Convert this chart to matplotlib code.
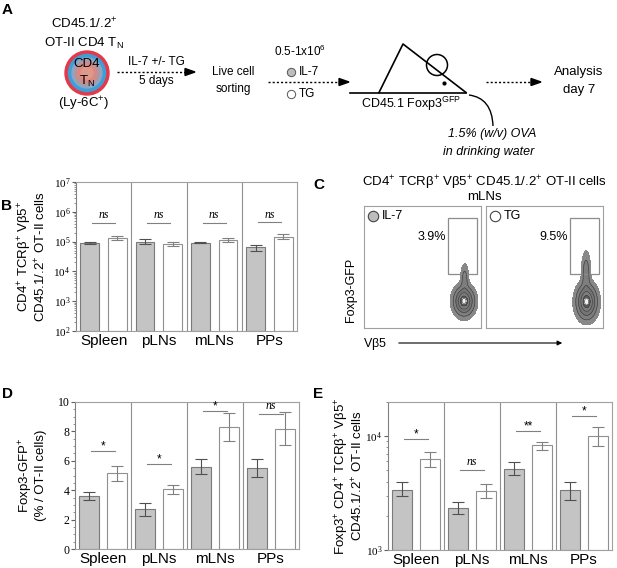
import numpy as np
import matplotlib.pyplot as plt
from matplotlib.patches import Circle, Rectangle, Polygon, PathPatch
from matplotlib.path import Path
from matplotlib.ticker import FixedLocator, AutoMinorLocator, LogLocator, NullFormatter

plt.rcParams['font.family'] = ['Liberation Sans', 'DejaVu Sans']

organs = ['Spleen', 'pLNs', 'mLNs', 'PPs']

# B: CD4+ TCRb+ Vb5+ CD45.1/.2+ OT-II cells (counts)
b_il7 = [9.0e4, 1.0e5, 9.3e4, 6.5e4]
b_il7_lo = [8.0e4, 8.0e4, 8.8e4, 5.0e4]
b_il7_hi = [1.0e5, 1.2e5, 9.8e4, 7.5e4]
b_tg = [1.35e5, 8.5e4, 1.1e5, 1.45e5]
b_tg_lo = [1.1e5, 7.0e4, 9.5e4, 1.2e5]
b_tg_hi = [1.6e5, 1.0e5, 1.3e5, 1.8e5]
b_sig = ['ns', 'ns', 'ns', 'ns']
b_sig_y = [4.3e5, 4.3e5, 4.3e5, 4.5e5]

# D: Foxp3-GFP+ (% of OT-II cells)
d_il7 = [3.6, 2.69, 5.59, 5.54]
d_il7_lo = [3.33, 2.26, 5.09, 4.91]
d_il7_hi = [3.85, 3.1, 6.09, 6.09]
d_tg = [5.14, 4.05, 8.30, 8.19]
d_tg_lo = [4.62, 3.73, 7.38, 7.06]
d_tg_hi = [5.66, 4.37, 9.25, 9.32]
d_sig = ['*', '*', '*', 'ns']
d_sig_y = [6.65, 5.75, 9.37, 9.2]

# E: Foxp3+ OT-II cells (counts)
e_il7 = [3.4e3, 2.36e3, 5.18e3, 3.39e3]
e_il7_lo = [2.97e3, 2.09e3, 4.56e3, 2.77e3]
e_il7_hi = [3.94e3, 2.63e3, 5.89e3, 3.96e3]
e_tg = [6.25e3, 3.33e3, 8.34e3, 1.0e4]
e_tg_lo = [5.36e3, 2.87e3, 7.64e3, 8.13e3]
e_tg_hi = [7.24e3, 3.83e3, 8.97e3, 1.2e4]
e_sig = ['*', 'ns', '**', '*']
e_sig_y = [9.5e3, 5.08e3, 1.12e4, 1.5e4]

# C: flow plots (gate %, blob shape: body and tail centre / spread / weight)
c_groups = ['IL-7', 'TG']
c_pct = ['3.9%', '9.5%']
c_body = [(0.855, 0.22, 0.045, 0.06), (0.86, 0.215, 0.045, 0.072)]
c_tail = [(0.86, 0.40, 0.018, 0.065, 0.2), (0.855, 0.45, 0.02, 0.09, 0.24)]

GREY = '#c4c4c4'
FRAME = '#a0a0a0'


def bars(ax, il7, il7_lo, il7_hi, tg, tg_lo, tg_hi, sig, sig_y, ymin):
    x = np.arange(len(organs))
    il7 = np.array(il7)
    tg = np.array(tg)
    ax.bar(x - 0.25, il7 - ymin, bottom=ymin, width=0.34, color=GREY,
           edgecolor='#7a7a7a', lw=0.8, zorder=2)
    ax.bar(x + 0.25, tg - ymin, bottom=ymin, width=0.34, color='white',
           edgecolor='#909090', lw=0.8, zorder=2)
    ax.errorbar(x - 0.25, il7, yerr=[il7 - np.array(il7_lo), np.array(il7_hi) - il7],
                fmt='none', ecolor='#505050', elinewidth=0.8, capsize=4, capthick=0.8, zorder=3)
    ax.errorbar(x + 0.25, tg, yerr=[tg - np.array(tg_lo), np.array(tg_hi) - tg],
                fmt='none', ecolor='#808080', elinewidth=0.8, capsize=4, capthick=0.8, zorder=3)
    for i in range(len(organs)):
        ax.plot([i - 0.21, i + 0.21], [sig_y[i], sig_y[i]], color='#808080', lw=0.8)
        if sig[i] == 'ns':
            ax.annotate('ns', (i, sig_y[i]), xytext=(0, 1), textcoords='offset points',
                        ha='center', va='bottom', fontsize=8.5, style='italic',
                        family='Liberation Serif')
        else:
            ax.annotate(sig[i], (i, sig_y[i]), xytext=(0, -1), textcoords='offset points',
                        ha='center', va='bottom', fontsize=8.5)
    for s in (0.5, 1.5, 2.5):
        ax.axvline(s, color='#909090', lw=0.8, zorder=1)
    ax.set_xlim(-0.5, 3.5)
    ax.set_xticks(x)
    ax.set_xticklabels(organs, fontsize=11)
    ax.tick_params(axis='x', length=0, pad=2)
    ax.tick_params(axis='y', labelsize=8, length=3, color='#606060', pad=1)
    ax.tick_params(axis='y', which='minor', length=1.5, color='#808080')
    for sp in ax.spines.values():
        sp.set_color(FRAME)
        sp.set_linewidth(0.8)
    ax.spines['left'].set_color('#808080')


fig = plt.figure(figsize=(6.17, 5.68), dpi=100)

# overlay in pixel coordinates for panel A and labels
ov = fig.add_axes([0, 0, 1, 1])
ov.set_xlim(0, 617)
ov.set_ylim(568, 0)
ov.axis('off')

for letter, (lx, ly) in zip('ABCDE', [(2, 10), (1, 206), (313, 185), (2, 394), (313, 394)]):
    ov.text(lx, ly, letter, fontsize=11, fontweight='bold', va='center', ha='left')

# panel A schematic
ov.text(84, 24, r'CD45.1/.2$\mathregular{^{+}}$', ha='center', va='center', fontsize=9.5)
ov.text(84, 43, r'OT-II CD4 T$\mathregular{_{N}}$', ha='center', va='center', fontsize=9.5)
ov.add_patch(Circle((87, 73), 22, color='#e23a4a', zorder=2))
ov.add_patch(Circle((87, 73), 18.5, color='#3d9fd6', zorder=2))
for r, c in zip([15, 12, 9, 6], ['#8aa6c4', '#c09098', '#d88a80', '#e0988a']):
    ov.add_patch(Circle((87, 73), r, color=c, zorder=2))
ov.text(87, 64, 'CD4', ha='center', va='center', fontsize=9.5, zorder=3)
ov.text(87, 81, r'T$\mathregular{_{N}}$', ha='center', va='center', fontsize=9.5, zorder=3)
ov.text(84, 104, r'(Ly-6C$\mathregular{^{+}}$)', ha='center', va='center', fontsize=9.5)


def dotted_arrow(x0, x1, y):
    ov.plot([x0, x1 - 8], [y, y], color='k', lw=1, linestyle=(0, (1.5, 1.5)))
    ov.add_patch(Polygon([[x1 - 10, y - 3.5], [x1, y], [x1 - 10, y + 3.5]], closed=True,
                         color='k'))


dotted_arrow(117, 195, 72)
ov.text(156, 62, 'IL-7 +/- TG', ha='center', va='center', fontsize=8.5)
ov.text(156, 81, '5 days', ha='center', va='center', fontsize=8.5)
ov.text(233, 72, 'Live cell', ha='center', va='center', fontsize=8.5)
ov.text(233, 89, 'sorting', ha='center', va='center', fontsize=8.5)
dotted_arrow(268, 349, 82)
ov.text(300, 51, r'0.5-1x10$\mathregular{^{6}}$', ha='center', va='center', fontsize=8.5)
ov.plot(291, 72, 'o', ms=6, mfc='#bdbdbd', mec='#555555', mew=0.7)
ov.text(299, 72, 'IL-7', ha='left', va='center', fontsize=8.5)
ov.plot(291, 94, 'o', ms=6, mfc='white', mec='#555555', mew=0.7)
ov.text(299, 94, 'TG', ha='left', va='center', fontsize=8.5)

# mouse
ov.plot([350, 466], [92.5, 92.5], color='k', lw=1.2)
ov.plot([379, 403, 466], [92.5, 44, 92.5], color='k', lw=1.2)
ov.add_patch(Circle((437, 65), 10.5, fill=False, ec='k', lw=1.1))
ov.plot(444, 83, 'o', ms=2, color='k')
ov.text(411, 104, r'CD45.1 Foxp3$\mathregular{^{GFP}}$', ha='center', va='center', fontsize=9)
curve = Path([(469, 95), (492, 98), (493, 126)], [Path.MOVETO, Path.CURVE3, Path.CURVE3])
ov.add_patch(PathPatch(curve, fill=False, ec='k', lw=1))
ov.text(492, 134, '1.5% (w/v) OVA', ha='center', va='center', fontsize=9, style='italic')
ov.text(489, 152, 'in drinking water', ha='center', va='center', fontsize=9, style='italic')
dotted_arrow(486, 541, 82)
ov.text(579, 72, 'Analysis', ha='center', va='center', fontsize=9.5)
ov.text(579, 90, 'day 7', ha='center', va='center', fontsize=9.5)

# panel C texts
ov.text(484, 183, r'CD4$\mathregular{^{+}}$ TCR$\mathregular{\beta^{+}}$ V$\mathregular{\beta}$5$\mathregular{^{+}}$ CD45.1/.2$\mathregular{^{+}}$ OT-II cells',
        ha='center', va='center', fontsize=9.5)
ov.text(484, 197, 'mLNs', ha='center', va='center', fontsize=9.5)
ov.text(351, 290, 'Foxp3-GFP', ha='center', va='center', fontsize=9, rotation=90)
ov.text(363, 344, r'V$\mathregular{\beta}$5', ha='left', va='center', fontsize=9)
ov.annotate('', xy=(565, 343), xytext=(396, 343),
            arrowprops=dict(arrowstyle='-|>', color='k', lw=0.8, mutation_scale=7))

# panel B
axB = fig.add_axes([76 / 617, 1 - 331 / 568, 221 / 617, 149 / 568])
axB.set_yscale('log')
axB.set_ylim(1e2, 1e7)
bars(axB, b_il7, b_il7_lo, b_il7_hi, b_tg, b_tg_lo, b_tg_hi, b_sig, b_sig_y, 1e2)
axB.yaxis.set_major_locator(FixedLocator([1e2, 1e3, 1e4, 1e5, 1e6, 1e7]))
axB.yaxis.set_minor_locator(LogLocator(subs=np.arange(2, 10)))
axB.yaxis.set_minor_formatter(NullFormatter())
axB.set_yticklabels([r'$\mathregular{10^{%d}}$' % k for k in range(2, 8)],
                    family='Liberation Serif', fontsize=8)
axB.set_ylabel('CD4$\\mathregular{^{+}}$ TCR$\\mathregular{\\beta^{+}}$ V$\\mathregular{\\beta}$5$\\mathregular{^{+}}$\nCD45.1/.2$\\mathregular{^{+}}$ OT-II cells',
               fontsize=9.5, linespacing=0.95)
axB.yaxis.set_label_coords(-0.125, 0.5)

# panel D
axD = fig.add_axes([75 / 617, 1 - 549 / 568, 224 / 617, 147 / 568])
axD.set_ylim(0, 10)
bars(axD, d_il7, d_il7_lo, d_il7_hi, d_tg, d_tg_lo, d_tg_hi, d_sig, d_sig_y, 0)
axD.set_yticks([0, 2, 4, 6, 8, 10])
axD.set_yticklabels(['0', '2', '4', '6', '8', '10'], family='Liberation Serif', fontsize=8.5)
axD.yaxis.set_minor_locator(AutoMinorLocator(4))
axD.set_ylabel('Foxp3-GFP$\\mathregular{^{+}}$\n(% / OT-II cells)', fontsize=9.5, linespacing=0.95)
axD.yaxis.set_label_coords(-0.125, 0.5)

# panel E
axE = fig.add_axes([388 / 617, 1 - 550 / 568, 224 / 617, 148 / 568])
axE.set_yscale('log')
axE.set_ylim(1e3, 2e4)
bars(axE, e_il7, e_il7_lo, e_il7_hi, e_tg, e_tg_lo, e_tg_hi, e_sig, e_sig_y, 1e3)
axE.yaxis.set_major_locator(FixedLocator([1e3, 1e4]))
axE.yaxis.set_minor_locator(LogLocator(subs=np.arange(2, 10)))
axE.yaxis.set_minor_formatter(NullFormatter())
axE.set_yticklabels([r'$\mathregular{10^{3}}$', r'$\mathregular{10^{4}}$'],
                    family='Liberation Serif', fontsize=8)
axE.set_ylabel('Foxp3$\\mathregular{^{+}}$ CD4$\\mathregular{^{+}}$ TCR$\\mathregular{\\beta^{+}}$ V$\\mathregular{\\beta}$5$\\mathregular{^{+}}$\nCD45.1/.2$\\mathregular{^{+}}$ OT-II cells',
               fontsize=9.5, linespacing=0.95)
axE.yaxis.set_label_coords(-0.1, 0.5)

# panel C flow plots
gx, gy = np.meshgrid(np.linspace(0, 1, 400), np.linspace(0, 1, 400))
c_left = [364, 486]
marker_fc = ['#bdbdbd', 'white']
for k in range(2):
    ax = fig.add_axes([c_left[k] / 617, 1 - 328 / 568, 117 / 617, 122 / 568])
    bx, by, bsx, bsy = c_body[k]
    tx, ty, tsx, tsy, tw = c_tail[k]
    dens = np.exp(-((gx - bx) ** 2 / (2 * bsx ** 2) + (gy - by) ** 2 / (2 * bsy ** 2)))
    dens += tw * np.exp(-((gx - tx) ** 2 / (2 * tsx ** 2) + (gy - ty) ** 2 / (2 * tsy ** 2)))
    dens /= dens.max()
    levels = [0.03, 0.12, 0.3, 0.55, 0.8, 0.93, 1.01]
    ax.contourf(gx, gy, dens, levels=levels,
                colors=['#888888', '#7e7e7e', '#747474', '#7c7c7c', '#5e5e5e', '#f2f2f2'])
    ax.contour(gx, gy, dens, levels=levels[1:-1], colors='#3c3c3c', linewidths=0.45)
    ax.add_patch(Rectangle((0.72, 0.44), 0.25, 0.465, fill=False, ec='#8c8c8c', lw=0.9))
    ax.text(0.70, 0.75, c_pct[k], ha='right', va='center', fontsize=9)
    ax.plot(0.08, 0.915, 'o', ms=7.5, mfc=marker_fc[k], mec='#444444', mew=0.8)
    ax.text(0.15, 0.915, c_groups[k], ha='left', va='center', fontsize=9)
    ax.set_xlim(0, 1)
    ax.set_ylim(0, 1)
    ax.set_xticks([])
    ax.set_yticks([])
    for sp in ax.spines.values():
        sp.set_color(FRAME)
        sp.set_linewidth(0.8)

fig.savefig('out.png', dpi=100)
